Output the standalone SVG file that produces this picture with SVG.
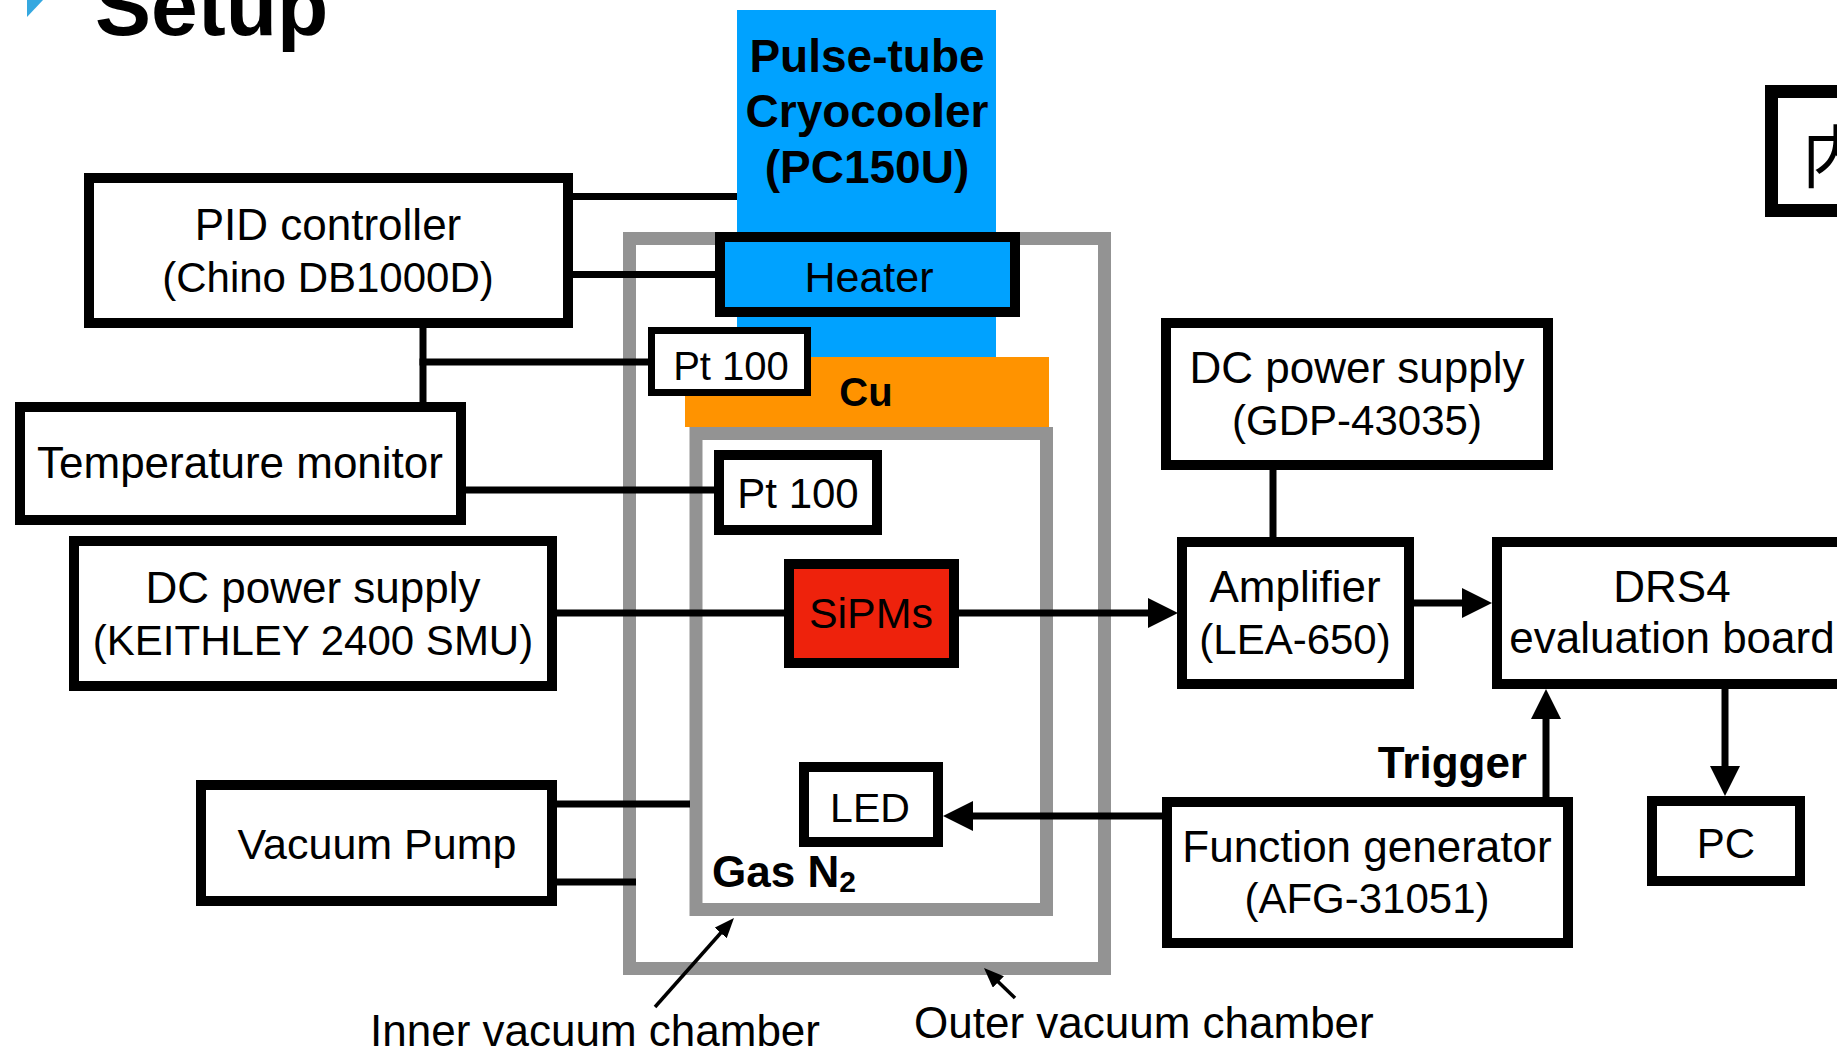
<svg xmlns="http://www.w3.org/2000/svg" width="1837" height="1047" viewBox="0 0 1837 1047">
<defs>
<style>
text{font-family:"Liberation Sans",Arial,Helvetica,sans-serif;fill:#000;}
.t{font-size:44px;text-anchor:middle;}
.p{font-size:42px;}
.b{font-weight:bold;}
.box{fill:#fff;stroke:#000;stroke-width:10;}
.ln{fill:none;stroke:#000;stroke-width:7;}
.ptr{fill:none;stroke:#000;stroke-width:3.5;}
.ch{fill:none;stroke:#939393;stroke-width:13;}
</style>
<marker id="ah" markerUnits="userSpaceOnUse" markerWidth="30" markerHeight="30" refX="20" refY="15" orient="auto" viewBox="0 0 30 30">
<path d="M0,0 L30,15 L0,30 z" fill="#000"/>
</marker>
<marker id="sah" markerUnits="userSpaceOnUse" markerWidth="20" markerHeight="16" refX="14" refY="8" orient="auto" viewBox="0 0 20 16">
<path d="M0,0 L20,8 L0,16 z" fill="#000"/>
</marker>
</defs>
<rect x="0" y="0" width="1837" height="1047" fill="#fff"/>

<g id="title">
<polygon points="27,0 43,0 27,17" fill="#35a8e0"/>
<text x="95" y="35" class="b" style="font-size:84px">Setup</text>
</g>

<g id="outer-chamber"><rect class="ch" x="629.5" y="238.5" width="475" height="730"/></g>
<g id="inner-chamber"><rect class="ch" x="696" y="433.5" width="350.5" height="476"/></g>

<g id="cryocooler">
<rect x="737" y="10" width="259" height="347" fill="#00a2ff"/>
<text class="t b" x="867" y="72" style="font-size:46px">Pulse-tube</text>
<text class="t b" x="867" y="127" style="font-size:46px">Cryocooler</text>
<text class="t b" x="867" y="183" style="font-size:46px">(PC150U)</text>
</g>

<g id="cu">
<rect x="685" y="357" width="364" height="70" fill="#ff9300"/>
<text class="t b" x="866" y="406" style="font-size:40px">Cu</text>
</g>

<g id="connectors">
<path class="ln" d="M573,196.5 H737"/>
<path class="ln" d="M573,274.5 H715"/>
<path class="ln" d="M423,328 V402"/>
<path class="ln" d="M419.5,362 H648"/>
<path class="ln" d="M466,490 H714"/>
<path class="ln" d="M557,613 H784"/>
<path class="ln" d="M959,613 H1168" marker-end="url(#ah)"/>
<path class="ln" d="M1414,603 H1482" marker-end="url(#ah)"/>
<path class="ln" d="M1273,470 V537"/>
<path class="ln" d="M1546,797 V699" marker-end="url(#ah)"/>
<path class="ln" d="M1725,689 V786" marker-end="url(#ah)"/>
<path class="ln" d="M1162,816 H953" marker-end="url(#ah)"/>
<path class="ln" d="M557,804 H690"/>
<path class="ln" d="M557,882 H636"/>
<path class="ptr" d="M655,1007 L730,922.5" marker-end="url(#sah)"/>
<path class="ptr" d="M1015,998 L988.3,972.2" marker-end="url(#sah)"/>
</g>

<g id="pid">
<rect class="box" x="89" y="178" width="479" height="145"/>
<text class="t" x="328" y="240">PID controller</text>
<text class="t p" x="328" y="292">(Chino DB1000D)</text>
</g>

<g id="heater">
<rect class="box" x="720" y="237" width="295" height="75" style="fill:#00a2ff"/>
<text class="t" x="869" y="292" style="font-size:43px">Heater</text>
</g>

<g id="pt100-top">
<rect class="box" x="651.5" y="330.5" width="156" height="62" style="stroke-width:7"/>
<text class="t" x="731" y="380" style="font-size:40px">Pt 100</text>
</g>

<g id="temp-monitor">
<rect class="box" x="20" y="407" width="441" height="113"/>
<text class="t" x="240" y="478">Temperature monitor</text>
</g>

<g id="pt100-low">
<rect class="box" x="719" y="455" width="158" height="75"/>
<text class="t" x="798" y="508" style="font-size:42px">Pt 100</text>
</g>

<g id="keithley">
<rect class="box" x="74" y="541" width="478" height="145"/>
<text class="t" x="313" y="603">DC power supply</text>
<text class="t p" x="313" y="655">(KEITHLEY 2400 SMU)</text>
</g>

<g id="sipms">
<rect class="box" x="789" y="564" width="165" height="99" style="fill:#ee220c"/>
<text class="t" x="871" y="628" style="font-size:43px">SiPMs</text>
</g>

<g id="led">
<rect class="box" x="804" y="767" width="134" height="75"/>
<text class="t" x="870" y="822" style="font-size:41px">LED</text>
</g>

<g id="gas">
<text x="712" y="887" class="b" style="font-size:44px">Gas N<tspan style="font-size:30px" dy="5">2</tspan></text>
</g>

<g id="vacuum-pump">
<rect class="box" x="201" y="785" width="351" height="116"/>
<text class="t" x="377" y="859" style="font-size:43px">Vacuum Pump</text>
</g>

<g id="gdp">
<rect class="box" x="1166" y="323" width="382" height="142"/>
<text class="t" x="1357" y="383">DC power supply</text>
<text class="t p" x="1357" y="435">(GDP-43035)</text>
</g>

<g id="amplifier">
<rect class="box" x="1182" y="542" width="227" height="142"/>
<text class="t" x="1295" y="602">Amplifier</text>
<text class="t p" x="1295" y="654">(LEA-650)</text>
</g>

<g id="drs4">
<rect class="box" x="1497" y="542" width="360" height="142"/>
<text class="t" x="1672" y="602">DRS4</text>
<text class="t" x="1672" y="653">evaluation board</text>
</g>

<g id="trigger-label">
<text x="1527" y="778" class="b" style="font-size:44px;text-anchor:end">Trigger</text>
</g>

<g id="pc">
<rect class="box" x="1652" y="801" width="148" height="80"/>
<text class="t" x="1726" y="858" style="font-size:42px">PC</text>
</g>

<g id="function-generator">
<rect class="box" x="1167" y="802" width="401" height="141"/>
<text class="t" x="1367" y="862">Function generator</text>
<text class="t p" x="1367" y="913">(AFG-31051)</text>
</g>

<g id="top-right-box">
<rect class="box" x="1771.5" y="91.5" width="100" height="119" style="stroke-width:13"/>
<text x="1802" y="182" style="font-size:68px;font-family:'Noto Sans CJK JP','Noto Sans CJK SC',sans-serif">内</text>
</g>

<g id="labels">
<text x="370" y="1046" style="font-size:44px">Inner vacuum chamber</text>
<text x="914" y="1038" style="font-size:44px">Outer vacuum chamber</text>
</g>
</svg>
